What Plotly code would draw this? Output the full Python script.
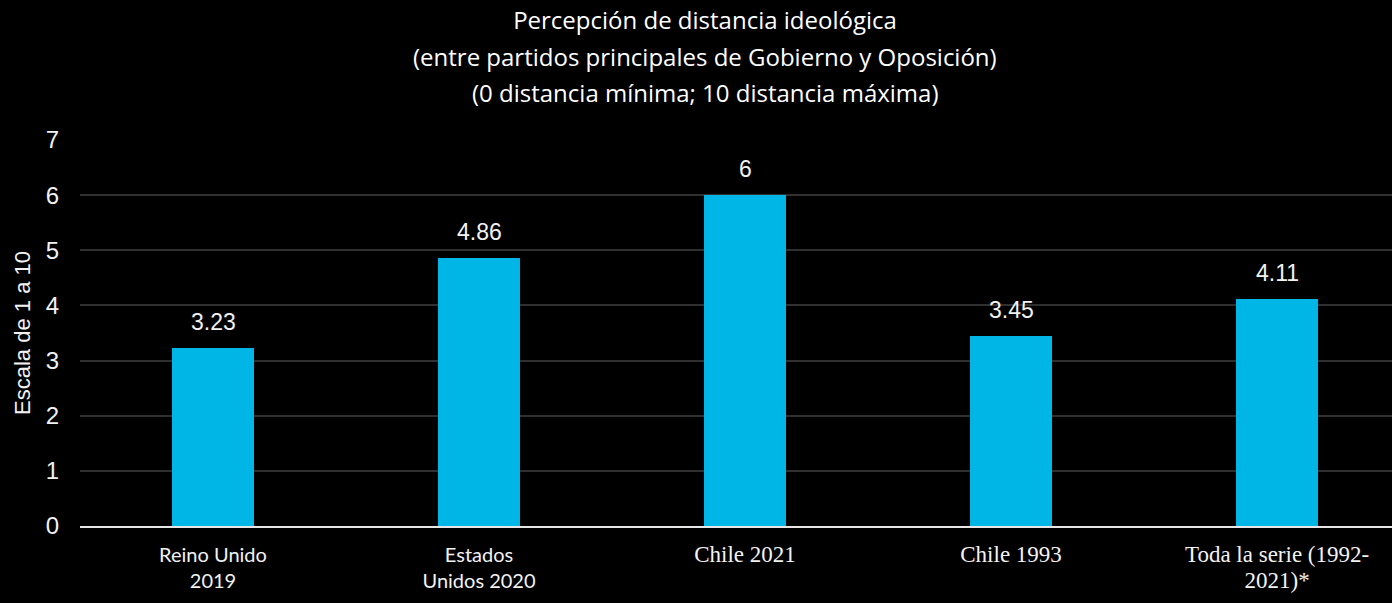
import plotly.graph_objects as go

categories = ["Reino Unido 2019", "Estados Unidos 2020", "Chile 2021", "Chile 1993", "Toda la serie (1992-2021)*"]
values = [3.23, 4.86, 6, 3.45, 4.11]
value_labels = ["3.23", "4.86", "6", "3.45", "4.11"]
tick_labels = [
    'Reino Unido<br>2019',
    'Estados<br>Unidos 2020',
    '<span style="font-family:Liberation Serif, serif;font-size:23px">Chile 2021</span>',
    '<span style="font-family:Liberation Serif, serif;font-size:23px">Chile 1993</span>',
    '<span style="font-family:Liberation Serif, serif;font-size:23px">Toda la serie (1992-<br>2021)*</span>',
]
y_ticks = [0, 1, 2, 3, 4, 5, 6, 7]
title_lines = [
    "Percepción de distancia ideológica",
    "(entre partidos principales de Gobierno y Oposición)",
    "(0 distancia mínima; 10 distancia máxima)",
]

title_font = dict(family="Open Sans, sans-serif", size=24, color="#ffffff")
sans = "Liberation Sans, Arial, sans-serif"

fig = go.Figure()
fig.add_trace(go.Bar(
    x=list(range(len(categories))), y=values, width=0.31,
    marker=dict(color="#00B6E6", line=dict(width=0)),
    hovertext=categories, showlegend=False,
))

for i, (v, lab) in enumerate(zip(values, value_labels)):
    fig.add_annotation(x=i, y=v, text=lab, showarrow=False, yanchor="bottom", yshift=11,
                       font=dict(family=sans, size=23, color="#f2f2f2"))

# title lines 2 and 3 (line 1 is the layout title)
for k, line in enumerate(title_lines[1:], start=1):
    fig.add_annotation(xref="paper", yref="paper", x=(705 - 80) / 1312, y=1 + (140 - (21 + 35.5 * k)) / 386,
                       text=line, showarrow=False, xanchor="center", yanchor="middle", font=title_font)

fig.update_layout(
    width=1392, height=603,
    paper_bgcolor="#000000", plot_bgcolor="#000000",
    margin=dict(l=80, r=0, t=140, b=77),
    title=dict(
        text=title_lines[0],
        x=705 / 1392, xanchor="center", yref="container", y=1 - 21 / 603, yanchor="middle",
        font=title_font,
    ),
    xaxis=dict(
        range=[-0.5, 4.432], tickmode="array", tickvals=list(range(len(categories))), ticktext=tick_labels,
        showgrid=False, zeroline=False, showline=True, linecolor="#e6e6e6", linewidth=2,
        ticks="", tickfont=dict(family="Lato, Open Sans, sans-serif", size=20, color="#f2f2f2"), ticklabelstandoff=10,
    ),
    yaxis=dict(
        range=[0, 7], tickmode="array", tickvals=y_ticks, ticktext=[str(t) for t in y_ticks],
        showgrid=True, gridcolor="#303030", gridwidth=2, zeroline=False, showline=False,
        tickfont=dict(family=sans, size=24, color="#f2f2f2"),
        ticklabelstandoff=20,
        title=dict(text="Escala de 1 a 10", font=dict(family=sans, size=22, color="#f2f2f2"), standoff=8),
    ),
    bargap=0,
)

fig.write_html("out.html", config={"displayModeBar": False},
               post_script="document.body.style.margin='0';document.body.style.background='#000';")
